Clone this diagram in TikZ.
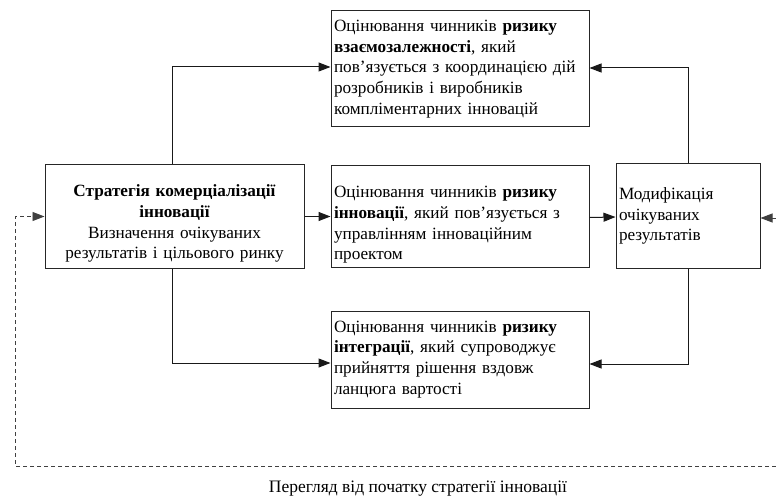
\documentclass[tikz,border=0pt]{standalone}
\usepackage{fontspec}
\setmainfont{Liberation Serif}
\usetikzlibrary{arrows.meta}
\begin{document}
\begin{tikzpicture}[x=1pt,y=-1pt,
  box/.style={draw=black!85, line width=1pt, rectangle, inner sep=3pt, font=\fontsize{17.2}{20.8}\selectfont},
  lbox/.style={box, align=left},
  arr/.style={draw=black!90, line width=1pt, -{Triangle[length=12pt,width=9pt]}},
  dasharr/.style={draw=black!75, line width=0.9pt, dash pattern=on 4pt off 3pt, -{Triangle[length=12pt,width=9pt]}}
]
\useasboundingbox (0,0) rectangle (776,497);

\node[lbox, minimum width=258pt, minimum height=116pt, text width=252pt] (top) at (460,69)
  {Оцінювання чинників \textbf{ризику}\\
   \textbf{взаємозалежності}, який\\
   пов’язується з координацією дій\\
   розробників і виробників\\
   компліментарних інновацій};

\node[box, align=center, minimum width=259pt, minimum height=104pt, text width=253pt] (left) at (174.5,216.5)
  {\rule{0pt}{26pt}\textbf{Стратегія комерціалізації}\\
   \textbf{інновації}\\
   Визначення очікуваних\\
   результатів і цільового ринку};

\node[lbox, minimum width=258pt, minimum height=102pt, text width=252pt] (mid) at (460,216.5)
  {\rule{0pt}{28pt}Оцінювання чинників \textbf{ризику}\\
   \textbf{інновації}, який пов’язується з\\
   управлінням інноваційним\\
   проектом};

\node[lbox, minimum width=144pt, minimum height=104pt, text width=138pt] (mod) at (688,216)
  {Модифікація\\
   очікуваних\\
   результатів};

\node[lbox, minimum width=258pt, minimum height=97pt, text width=252pt] (bot) at (460,359.5)
  {Оцінювання чинників \textbf{ризику}\\
   \textbf{інтеграції}, який супроводжує\\
   прийняття рішення вздовж\\
   ланцюга вартості};

\node[font=\fontsize{17.5}{20}\selectfont, inner sep=0pt] (cap) at (418,489) {Перегляд від початку стратегії інновації};

\coordinate (rb) at (776,466);
\coordinate (re) at (776,218);

\draw[arr] ([xshift=-2.5pt]left.north) |- ([yshift=2pt]top.west);
\draw[arr] ([xshift=-2.5pt]left.south) |- ([yshift=-3.5pt]bot.west);
\draw[arr] (left.east) -- (mid.west);
\draw[arr] ([yshift=-1pt]mid.east) -- ([yshift=-1pt]mod.west);
\draw[arr] (mod.north) |- ([yshift=1pt]top.east);
\draw[arr] (mod.south) |- ([yshift=-4.5pt]bot.east);
\draw[dasharr] (rb) -| ([xshift=-29pt]left.west) -- (left.west);
\draw[dasharr] (re) -- (re -| mod.east);
\end{tikzpicture}
\end{document}
